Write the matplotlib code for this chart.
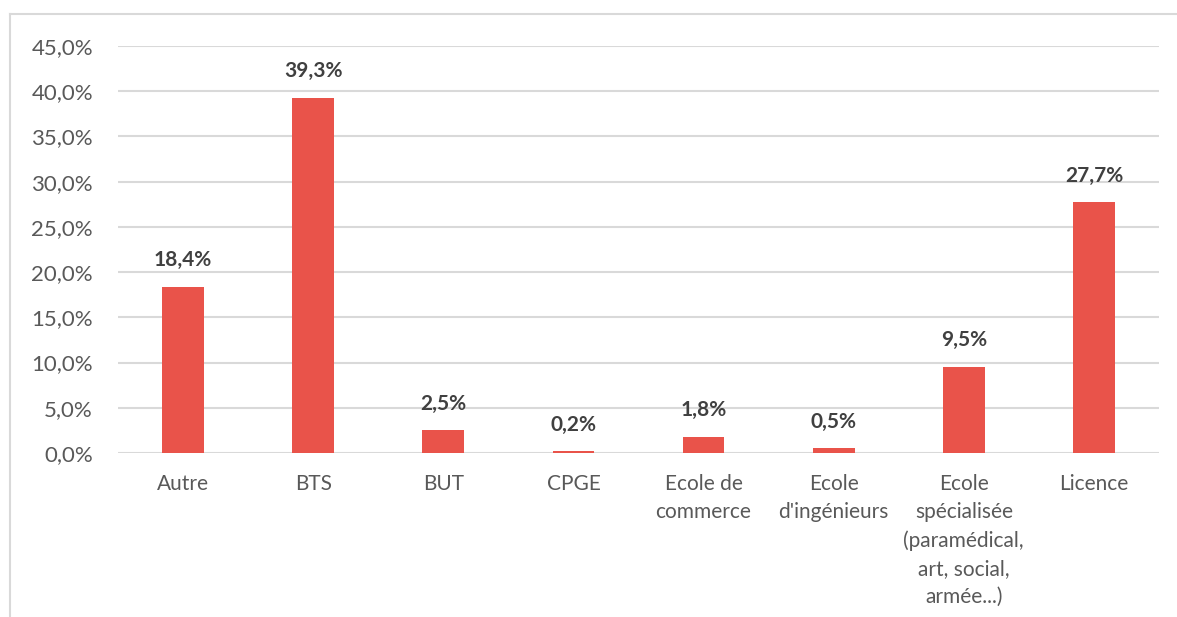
import matplotlib
matplotlib.use("Agg")
import matplotlib.pyplot as plt
from matplotlib.lines import Line2D

categories = ["Autre", "BTS", "BUT", "CPGE", "Ecole de\ncommerce", "Ecole\nd'ingénieurs",
              "Ecole\nspécialisée\n(paramédical,\nart, social,\narmée...)", "Licence"]
values = [18.4, 39.3, 2.5, 0.2, 1.8, 0.5, 9.5, 27.7]
yticks = [0, 5, 10, 15, 20, 25, 30, 35, 40, 45]

plt.rcParams['font.family'] = ['Lato', 'DejaVu Sans']

W, H = 1177, 617
fig = plt.figure(figsize=(W/100, H/100), dpi=100)
ax = fig.add_axes([118/W, 1-453/H, (1159-118)/W, (453-46)/H])

x = range(len(categories))
ax.bar(x, values, width=0.32, color="#E9534A", zorder=3)
ax.set_xlim(-0.5, len(categories)-0.5)
ax.set_ylim(0, 45)
ax.set_yticks(yticks)
ax.set_yticklabels([f"{v:.1f}%".replace(".", ",") for v in yticks], fontsize=16, color="#595959")
ax.yaxis.grid(True, color="#D9D9D9", linewidth=1.5, zorder=0)
ax.set_xticks(list(x))
ax.set_xticklabels(categories, fontsize=15, color="#595959", linespacing=1.5, va="top")
ax.tick_params(axis="both", length=0)
ax.tick_params(axis="y", pad=18)
ax.tick_params(axis="x", pad=15)
for s in ax.spines.values():
    s.set_visible(False)

for i, v in enumerate(values):
    ax.annotate(f"{v:.1f}%".replace(".", ","), (i, v), xytext=(0, 12), textcoords="offset points",
                ha="center", va="bottom", fontsize=15, fontweight="bold", color="#404040")

# outer chart border (top and left)
fig.add_artist(Line2D([10/W, 1], [1-14/H, 1-14/H], color="#D9D9D9", linewidth=1.5, transform=fig.transFigure))
fig.add_artist(Line2D([10/W, 10/W], [1-14/H, 0], color="#D9D9D9", linewidth=1.5, transform=fig.transFigure))

fig.savefig("out.png", dpi=100)
